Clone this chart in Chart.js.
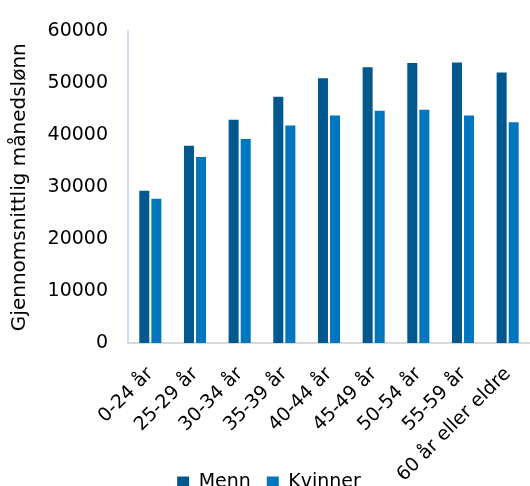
<!DOCTYPE html>
<html>
<head>
<meta charset="utf-8">
<script src="https://cdn.jsdelivr.net/npm/chart.js@4.4.0/dist/chart.umd.min.js"></script>
<style>
  html, body { margin: 0; padding: 0; background: #fff; }
  #wrap { width: 530px; height: 486px; }
</style>
</head>
<body>
<div id="wrap"><canvas id="myChart"></canvas></div>
<script>
// data
var categories = ['0-24 år', '25-29 år', '30-34 år', '35-39 år', '40-44 år',
                  '45-49 år', '50-54 år', '55-59 år', '60 år eller eldre'];
var menn    = [29300, 38000, 43000, 47400, 51000, 53100, 53900, 54000, 52100];
var kvinner = [27800, 35800, 39300, 41900, 43800, 44700, 44900, 43800, 42500];
var yTicks  = [0, 10000, 20000, 30000, 40000, 50000, 60000];

var fontName = 'DejaVu Sans';

// long x labels run down past the legend, so don't clip them to the axis box
var stretchX = {
    id: 'stretchX',
    afterLayout: function (chart) {
        chart.scales.x.bottom = chart.height;
    }
};

new Chart('myChart', {
    type: 'bar',
    data: {
        labels: categories,
        datasets: [{
            label: 'Menn',
            data: menn,
            backgroundColor: '#00588e',
            borderWidth: 0,
            categoryPercentage: 0.54,
            barPercentage: 0.83
        }, {
            label: 'Kvinner',
            data: kvinner,
            backgroundColor: '#0076bf',
            borderWidth: 0,
            categoryPercentage: 0.54,
            barPercentage: 0.83
        }]
    },
    plugins: [stretchX],
    options: {
        responsive: true,
        maintainAspectRatio: false,
        animation: false,
        // legend is cut off at the bottom in the original
        layout: { padding: { left: 8, right: 0, top: 11, bottom: -16 } },
        plugins: {
            legend: {
                position: 'bottom',
                labels: {
                    color: '#000',
                    font: { family: fontName, size: 19 },
                    boxWidth: 12,
                    boxHeight: 12,
                    padding: 16
                }
            },
            tooltip: { enabled: false }
        },
        scales: {
            x: {
                afterFit: function (axis) {
                    axis.height = 114;
                    axis.paddingRight = 0;
                    axis.paddingLeft = 0;
                },
                grid: { display: false, drawTicks: false },
                border: { display: true, color: '#d9d9d9', width: 2 },
                ticks: {
                    color: '#000',
                    font: { family: fontName, size: 19 },
                    minRotation: 45,
                    maxRotation: 45,
                    padding: 20
                }
            },
            y: {
                min: 0,
                max: 60000,
                afterBuildTicks: function (axis) {
                    axis.ticks = yTicks.map(function (v) { return { value: v }; });
                },
                afterFit: function (axis) { axis.width = 120; },
                grid: { display: false, drawTicks: false },
                border: { display: true, color: '#d6daf0', width: 2 },
                ticks: {
                    color: '#000',
                    font: { family: fontName, size: 19 },
                    padding: 20,
                    callback: function (v) { return String(v); }
                },
                title: {
                    display: true,
                    text: 'Gjennomsnittlig månedslønn',
                    color: '#000',
                    font: { family: fontName, size: 20 },
                    padding: { top: 0, bottom: 4 }
                }
            }
        }
    }
});
</script>
</body>
</html>
